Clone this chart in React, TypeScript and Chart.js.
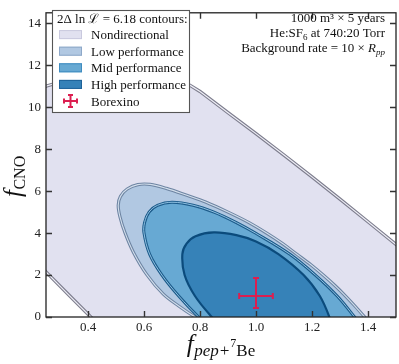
import React, { useEffect, useRef } from 'react';
import { Chart, registerables } from 'chart.js';
Chart.register(...registerables);

// ---- data ----
const xTickValues = [0.4, 0.6, 0.8, 1.0, 1.2, 1.4];
const yTickValues = [0, 2, 4, 6, 8, 10, 12, 14];

const nondirectionalContour: [number, number][] = [
  [0.15, 3.5], [0.25, 2.15], [0.33, 1.07], [0.41, 0], [0.47, -0.8], [1.65, -0.8], [1.65, 1.8],
  [1.6, 2.38], [1.5, 3.46], [1.4, 4.54], [1.3, 5.62], [1.2, 6.68], [1.1, 7.72], [1.0, 8.74],
  [0.9, 9.74], [0.8, 10.75], [0.765, 11.04], [0.72, 11.35], [0.65, 11.65], [0.55, 11.8],
  [0.45, 11.7], [0.35, 11.4], [0.25, 11.0], [0.15, 10.5], [0.15, 3.5],
];

const lowContour: [number, number][] = [
  [0.85, -0.5], [0.783, 0], [0.729, 0.48], [0.669, 1.09], [0.61, 2.02], [0.562, 3.09], [0.532, 4.02],
  [0.514, 4.79], [0.508, 5.33], [0.516, 5.75], [0.54, 6.1], [0.578, 6.31], [0.622, 6.32], [0.68, 6.13],
  [0.753, 5.8], [0.82, 5.48], [0.9, 5.0], [0.975, 4.5], [1.038, 4.0], [1.095, 3.5], [1.145, 3.0],
  [1.195, 2.5], [1.24, 2.0], [1.282, 1.5], [1.32, 1.0], [1.355, 0.5], [1.388, 0], [1.42, -0.5], [0.85, -0.5],
];

const midContour: [number, number][] = [
  [0.84, -0.5], [0.795, 0], [0.724, 1], [0.664, 2], [0.62, 3], [0.6, 4], [0.602, 4.5], [0.618, 5.0],
  [0.648, 5.32], [0.7, 5.47], [0.775, 5.33], [0.85, 5.0], [0.93, 4.5], [0.998, 4.0], [1.12, 3.0],
  [1.212, 2.0], [1.29, 1.0], [1.352, 0], [1.38, -0.5], [0.84, -0.5],
];

const highContour: [number, number][] = [
  [0.88, -0.5], [0.842, 0], [0.782, 1], [0.745, 2], [0.737, 3], [0.752, 3.5], [0.784, 3.85],
  [0.849, 4.03], [0.93, 3.9], [1.0, 3.6], [1.08, 3.0], [1.17, 2.0], [1.228, 1.0], [1.262, 0],
  [1.27, -0.5], [0.88, -0.5],
];

const borexinoX = [1.0];
const borexinoY = [1.0];
const borexinoXErr = [0.06];
const borexinoYErrUp = [0.86];
const borexinoYErrDown = [0.57];

const legendLabels = ['Nondirectional', 'Low performance', 'Mid performance', 'High performance', 'Borexino'];
const legendTitle = '2\u0394 ln \u2112 = 6.18 contours:';

// ---- styles ----
const SERIF = '"Liberation Serif", "DejaVu Serif", serif';
const COL = {
  nd: '#e1e1f0', ndEdge: '#7e7e8e', ndIn: '#eeeef6',
  low: '#b1c8e2', lowEdge: '#6d84a2', lowIn: '#d2deec',
  mid: '#67a9d3', midEdge: '#1c5b8a', midIn: '#8fc1e2',
  high: '#3682b8', highEdge: '#0b4b7c',
  red: '#dc1e50',
};

type Run = { text: string; font: string; dy?: number };
function drawRuns(ctx: CanvasRenderingContext2D, runs: Run[], x: number, y: number, align: 'left' | 'right' | 'center') {
  let total = 0;
  const widths = runs.map((r) => { ctx.font = r.font; const w = ctx.measureText(r.text).width; total += w; return w; });
  let cx = align === 'left' ? x : align === 'right' ? x - total : x - total / 2;
  ctx.textAlign = 'left';
  ctx.textBaseline = 'alphabetic';
  runs.forEach((r, i) => { ctx.font = r.font; ctx.fillText(r.text, cx, y + (r.dy || 0)); cx += widths[i]; });
}

function drawCross(ctx: CanvasRenderingContext2D, cx: number, cy: number, l: number, r: number, t: number, b: number, cap: number) {
  ctx.beginPath();
  ctx.moveTo(l, cy); ctx.lineTo(r, cy);
  ctx.moveTo(cx, t); ctx.lineTo(cx, b);
  ctx.moveTo(l, cy - cap); ctx.lineTo(l, cy + cap);
  ctx.moveTo(r, cy - cap); ctx.lineTo(r, cy + cap);
  ctx.moveTo(cx - cap, t); ctx.lineTo(cx + cap, t);
  ctx.moveTo(cx - cap, b); ctx.lineTo(cx + cap, b);
  ctx.stroke();
}

const decorPlugin = {
  id: 'decor',
  afterDatasetsDraw(chart: any) {
    const ctx: CanvasRenderingContext2D = chart.ctx;
    const xs = chart.scales.x, ys = chart.scales.y;
    ctx.save();
    ctx.strokeStyle = COL.red;
    ctx.lineWidth = 2;
    borexinoX.forEach((bx, i) => {
      const by = borexinoY[i];
      drawCross(ctx, xs.getPixelForValue(bx), ys.getPixelForValue(by),
        xs.getPixelForValue(bx - borexinoXErr[i]), xs.getPixelForValue(bx + borexinoXErr[i]),
        ys.getPixelForValue(by + borexinoYErrUp[i]), ys.getPixelForValue(by - borexinoYErrDown[i]), 3);
    });
    ctx.restore();
  },
  afterDraw(chart: any) {
    const ctx: CanvasRenderingContext2D = chart.ctx;
    const a = chart.chartArea;
    const xs = chart.scales.x, ys = chart.scales.y;
    ctx.save();
    // frame
    ctx.strokeStyle = '#222';
    ctx.lineWidth = 1.3;
    ctx.strokeRect(a.left, a.top, a.right - a.left, a.bottom - a.top);
    // inward ticks
    ctx.strokeStyle = '#333';
    ctx.lineWidth = 1.4;
    ctx.beginPath();
    xTickValues.forEach((v) => {
      const px = Math.round(xs.getPixelForValue(v)) + 0.5;
      ctx.moveTo(px, a.bottom); ctx.lineTo(px, a.bottom - 6);
      ctx.moveTo(px, a.top); ctx.lineTo(px, a.top + 6);
    });
    yTickValues.forEach((v) => {
      const py = Math.round(ys.getPixelForValue(v)) + 0.5;
      ctx.moveTo(a.left, py); ctx.lineTo(a.left + 6, py);
      ctx.moveTo(a.right, py); ctx.lineTo(a.right - 6, py);
    });
    ctx.stroke();

    ctx.fillStyle = '#111';
    // x axis title
    drawRuns(ctx, [
      { text: 'f', font: `italic 25px ${SERIF}` },
      { text: ' ', font: `2px ${SERIF}` },
      { text: 'pep+', font: `italic 17px ${SERIF}`, dy: 4 },
      { text: '7', font: `12px ${SERIF}`, dy: -5 },
      { text: 'Be', font: `17px ${SERIF}`, dy: 4 },
    ], (a.left + a.right) / 2, 352, 'center');
    // y axis title
    ctx.save();
    ctx.translate(21, 197);
    ctx.rotate(-Math.PI / 2);
    drawRuns(ctx, [
      { text: 'f', font: `italic 25px ${SERIF}` },
      { text: ' ', font: `2px ${SERIF}` },
      { text: 'CNO', font: `16px ${SERIF}`, dy: 4 },
    ], 0, 0, 'left');
    ctx.restore();

    // annotation (top right)
    const F = `13px ${SERIF}`;
    const FI = `italic 13px ${SERIF}`;
    const rx = 385;
    drawRuns(ctx, [{ text: '1000 m\u00B3 \u00D7 5 years', font: F }], rx, 22, 'right');
    drawRuns(ctx, [
      { text: 'He:SF', font: F }, { text: '6', font: `9px ${SERIF}`, dy: 3 }, { text: ' at 740:20 Torr', font: F },
    ], rx, 37, 'right');
    drawRuns(ctx, [
      { text: 'Background rate = 10 \u00D7 ', font: F }, { text: 'R', font: FI }, { text: 'pp', font: `italic 9px ${SERIF}`, dy: 3 },
    ], rx, 52, 'right');

    // legend
    const L = 52, T = 10, R = 189, B = 112;
    ctx.fillStyle = '#fff';
    ctx.fillRect(L, T, R - L, B - T);
    ctx.strokeStyle = '#555';
    ctx.lineWidth = 1.1;
    ctx.strokeRect(L + 0.5, T + 0.5, R - L, B - T);
    ctx.fillStyle = '#111';
    drawRuns(ctx, [{ text: legendTitle, font: F }], 57, 22.5, 'left');
    const fills = [[COL.nd, '#c9c9de'], [COL.low, '#8ea8c8'], [COL.mid, '#3f8cbf'], [COL.high, '#1f6298']];
    const rowY = [34.6, 51.2, 67.8, 84.4, 101];
    fills.forEach(([f, e], i) => {
      ctx.fillStyle = f;
      ctx.fillRect(59, rowY[i] - 4.5, 23, 9);
      ctx.strokeStyle = e;
      ctx.lineWidth = 1;
      ctx.strokeRect(59.5, rowY[i] - 4, 22, 8);
    });
    ctx.strokeStyle = COL.red;
    ctx.lineWidth = 2;
    drawCross(ctx, 70.5, rowY[4], 64, 77, 95, 107, 2.5);
    ctx.fillStyle = '#111';
    legendLabels.forEach((lab, i) => {
      drawRuns(ctx, [{ text: lab, font: F }], 91, rowY[i] + 4.5, 'left');
    });
    ctx.restore();
  },
};

export default function App() {
  const ref = useRef<HTMLCanvasElement>(null);
  useEffect(() => {
    const canvas = ref.current;
    if (!canvas) return;
    const pts = (arr: [number, number][]) => arr.map(([x, y]) => ({ x, y }));
    const base = { pointRadius: 0, pointHoverRadius: 0, clip: 0 as any };
    const datasets: any[] = [
      { ...base, data: pts(nondirectionalContour), fill: 'shape', backgroundColor: COL.nd, borderColor: COL.ndEdge, borderWidth: 3.4, tension: 0, order: 9 },
      { ...base, data: pts(nondirectionalContour), fill: false, borderColor: COL.ndIn, borderWidth: 1.2, tension: 0, order: 8 },
      { ...base, data: pts(lowContour), fill: 'shape', backgroundColor: COL.low, borderColor: COL.lowEdge, borderWidth: 3.2, tension: 0.35, order: 7 },
      { ...base, data: pts(lowContour), fill: false, borderColor: COL.lowIn, borderWidth: 1.1, tension: 0.35, order: 6 },
      { ...base, data: pts(midContour), fill: 'shape', backgroundColor: COL.mid, borderColor: COL.midEdge, borderWidth: 3.0, tension: 0.35, order: 5 },
      { ...base, data: pts(midContour), fill: false, borderColor: COL.midIn, borderWidth: 1.0, tension: 0.35, order: 4 },
      { ...base, data: pts(highContour), fill: 'shape', backgroundColor: COL.high, borderColor: COL.highEdge, borderWidth: 2.2, tension: 0.35, order: 3 },
    ];
    const tickFont = { family: SERIF, size: 13 };
    const chart = new Chart(canvas, {
      type: 'line',
      data: { datasets },
      options: {
        responsive: false,
        animation: false,
        events: [],
        layout: { padding: { top: 3, right: 3, left: 0, bottom: 0 } },
        plugins: { legend: { display: false }, tooltip: { enabled: false } },
        scales: {
          x: {
            type: 'linear', min: 0.25, max: 1.5,
            grid: { display: false, drawTicks: false }, border: { display: false },
            afterBuildTicks: (s: any) => { s.ticks = xTickValues.map((v) => ({ value: v })); },
            afterFit: (s: any) => { s.height = 47; },
            ticks: { font: tickFont, color: '#222', padding: 3, maxRotation: 0, autoSkip: false, callback: (v: any) => Number(v).toFixed(1) },
          },
          y: {
            type: 'linear', min: 0, max: 14.5,
            grid: { display: false, drawTicks: false }, border: { display: false },
            afterBuildTicks: (s: any) => { s.ticks = yTickValues.map((v) => ({ value: v })); },
            afterFit: (s: any) => { s.width = 46; },
            ticks: { font: tickFont, color: '#222', padding: 5, autoSkip: false, callback: (v: any) => String(v) },
          },
        },
      } as any,
      plugins: [decorPlugin],
    });
    return () => chart.destroy();
  }, []);
  return (
    <div style={{ position: 'absolute', left: 0, top: 0, width: 399, height: 364, background: '#fff' }}>
      <canvas ref={ref} width={399} height={364} style={{ display: 'block' }} />
    </div>
  );
}
